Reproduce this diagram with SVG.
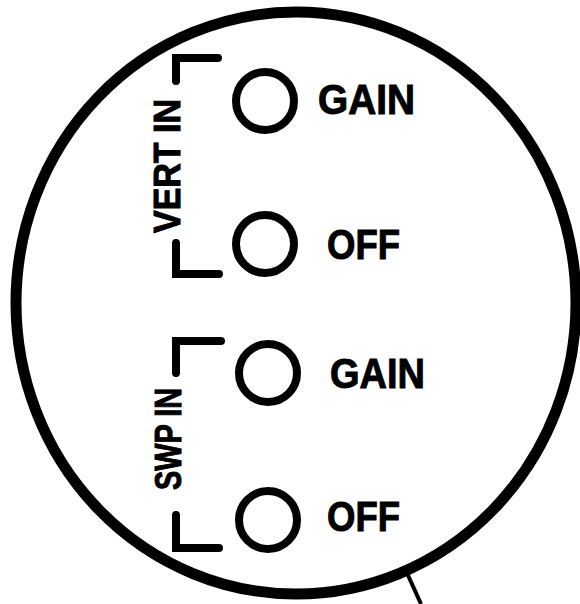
<svg xmlns="http://www.w3.org/2000/svg" width="580" height="604" viewBox="0 0 580 604">
  <style>
    .ring { fill: none; stroke: #000; stroke-width: 11; }
    .knob { fill: none; stroke: #000; stroke-width: 8; }
    .bracket { fill: none; stroke: #000; stroke-width: 8; stroke-linecap: round; stroke-linejoin: miter; }
    .lbl { font-family: "Liberation Sans", Arial, Helvetica, sans-serif; font-weight: bold; font-size: 42px; fill: #000; stroke: #000; stroke-width: 1; }
    .vlbl { font-family: "Liberation Sans", Arial, Helvetica, sans-serif; font-weight: bold; font-size: 36px; fill: #000; stroke: #000; stroke-width: 1; }
    .lead { fill: none; stroke: #000; stroke-width: 4; }
  </style>
  <rect width="580" height="604" fill="#fff"/>
  <g id="dial">
    <ellipse class="ring" cx="296" cy="303" rx="280" ry="291"/>
  </g>
  <g id="vert-in">
    <path class="bracket" d="M218 58 H176 V81"/>
    <path class="bracket" d="M176 243 V274 H219"/>
    <text class="vlbl" transform="translate(180 166) rotate(-90)" text-anchor="middle" textLength="134" lengthAdjust="spacingAndGlyphs">VERT IN</text>
  </g>
  <g id="swp-in">
    <path class="bracket" d="M221 341 H176 V373"/>
    <path class="bracket" d="M176 515 V548 H219"/>
    <text class="vlbl" transform="translate(181 439) rotate(-90)" text-anchor="middle" textLength="102" lengthAdjust="spacingAndGlyphs">SWP IN</text>
  </g>
  <g id="vert-gain">
    <circle class="knob" cx="265" cy="101" r="29"/>
    <text class="lbl" x="318" y="114" textLength="97" lengthAdjust="spacingAndGlyphs">GAIN</text>
  </g>
  <g id="vert-off">
    <circle class="knob" cx="265" cy="244" r="29"/>
    <text class="lbl" x="327" y="259" textLength="73" lengthAdjust="spacingAndGlyphs">OFF</text>
  </g>
  <g id="swp-gain">
    <circle class="knob" cx="268" cy="373" r="29"/>
    <text class="lbl" x="330" y="388" textLength="95" lengthAdjust="spacingAndGlyphs">GAIN</text>
  </g>
  <g id="swp-off">
    <circle class="knob" cx="268" cy="520" r="29"/>
    <text class="lbl" x="327" y="531" textLength="73" lengthAdjust="spacingAndGlyphs">OFF</text>
  </g>
  <g id="connectors">
    <line class="lead" x1="407" y1="573" x2="421" y2="604"/>
  </g>
</svg>
